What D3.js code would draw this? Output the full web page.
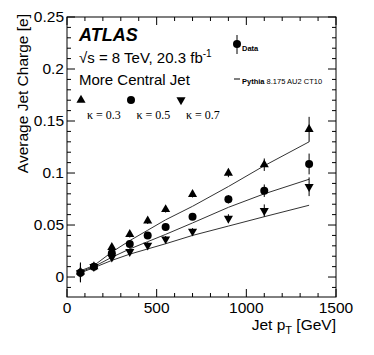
<!DOCTYPE html>
<html>
<head>
<meta charset="utf-8">
<script src="https://cdn.jsdelivr.net/npm/d3@7"></script>
<style>
  body { margin: 0; background: #fff; }
  svg text { font-family: "Liberation Sans", Arial, sans-serif; }
</style>
</head>
<body>
<div id="chart"></div>
<script>

// pT bin centres [GeV]
const ptBins = [75, 150, 250, 350, 450, 550, 700, 900, 1100, 1350];

// data, kappa = 0.3 / 0.5 / 0.7
const data03 = [0.005, 0.010, 0.0285, 0.041, 0.054, 0.065, 0.0795, 0.100, 0.108, 0.142];
const data05 = [0.004, 0.010, 0.0228, 0.0317, 0.040, 0.048, 0.058, 0.0747, 0.083, 0.1087];
const data07 = [0.004, 0.010, 0.019, 0.0244, 0.0305, 0.0365, 0.044, 0.0564, 0.0638, 0.0868];
const errs03 = [0.009, 0.002, 0.003, 0.003, 0.003, 0.003, 0.003, 0.004, 0.006, 0.012];
const errs05 = [0.009, 0.002, 0.003, 0.003, 0.003, 0.003, 0.003, 0.004, 0.006, 0.010];
const errs07 = [0.009, 0.002, 0.003, 0.003, 0.003, 0.003, 0.003, 0.004, 0.006, 0.009];

// Pythia 8.175 AU2 CT10
const mc03 = [0.006, 0.011, 0.024, 0.035, 0.045, 0.055, 0.068, 0.087, 0.107, 0.130];
const mc05 = [0.005, 0.010, 0.019, 0.027, 0.034, 0.041, 0.052, 0.067, 0.080, 0.094];
const mc07 = [0.004, 0.009, 0.016, 0.022, 0.027, 0.032, 0.040, 0.049, 0.058, 0.069];

const xTicks = [0, 500, 1000, 1500];
const yTicks = [0, 0.05, 0.1, 0.15, 0.2, 0.25];

const width = 374, height = 355;
const padL = 67, padR = 336, padT = 17, padB = 297;

const svg = d3.select("#chart")
    .append("svg")
    .attr("width", width)
    .attr("height", height);

const x = d3.scaleLinear().domain([0, 1500]).range([padL, padR]);
const y = d3.scaleLinear().domain([-0.0192, 0.25]).range([padB, padT]);

// frame
svg.append("rect")
    .attr("x", padL).attr("y", padT)
    .attr("width", padR - padL).attr("height", padB - padT)
    .attr("fill", "none").attr("stroke", "#000").attr("stroke-width", 1);

// ticks (ROOT style, inside, all four sides)
const tickG = svg.append("g").attr("stroke", "#000").attr("stroke-width", 1);
d3.range(0, 1501, 100).forEach(function (v) {
    const len = v % 500 === 0 ? 8 : 4;
    tickG.append("line").attr("x1", x(v)).attr("x2", x(v)).attr("y1", padB).attr("y2", padB - len);
    tickG.append("line").attr("x1", x(v)).attr("x2", x(v)).attr("y1", padT).attr("y2", padT + len);
});
d3.range(-1, 26).forEach(function (i) {
    const v = i / 100;
    const len = i % 5 === 0 ? 8 : 4;
    tickG.append("line").attr("x1", padL).attr("x2", padL + len).attr("y1", y(v)).attr("y2", y(v));
    tickG.append("line").attr("x1", padR).attr("x2", padR - len).attr("y1", y(v)).attr("y2", y(v));
});

// tick labels
svg.selectAll("text.xtick")
    .data(xTicks)
    .enter()
    .append("text")
    .attr("class", "xtick")
    .attr("x", d => x(d))
    .attr("y", 313)
    .attr("text-anchor", "middle")
    .style("font-size", "15.5px")
    .text(d => d);

svg.selectAll("text.ytick")
    .data(yTicks)
    .enter()
    .append("text")
    .attr("class", "ytick")
    .attr("x", padL - 3)
    .attr("y", d => y(d) + 5)
    .attr("text-anchor", "end")
    .style("font-size", "15.5px")
    .text(d => d);

// axis titles
const xt = svg.append("text")
    .attr("x", padR)
    .attr("y", 330)
    .attr("text-anchor", "end")
    .style("font-size", "15.5px");
xt.append("tspan").text("Jet p");
xt.append("tspan").attr("dy", 4).style("font-size", "11px").text("T");
xt.append("tspan").attr("dy", -4).text(" [GeV]");

svg.append("text")
    .attr("transform", "translate(28," + (padT - 3) + ") rotate(-90)")
    .attr("text-anchor", "end")
    .style("font-size", "15.5px")
    .text("Average Jet Charge [e]");

// MC lines
const line = d3.line().x((d, i) => x(ptBins[i])).y(d => y(d));
[mc03, mc05, mc07].forEach(function (mc) {
    svg.append("path")
        .attr("d", line(mc))
        .attr("fill", "none")
        .attr("stroke", "#333")
        .attr("stroke-width", 1);
});

// markers
const triUp = d3.symbol().type(d3.symbolTriangle).size(36);
function drawMarker(g, kind, cx, cy) {
    if (kind === "circle") {
        g.append("circle").attr("cx", cx).attr("cy", cy).attr("r", 4).attr("fill", "#000");
    } else {
        g.append("path")
            .attr("d", triUp())
            .attr("transform", "translate(" + cx + "," + cy + ")" + (kind === "down" ? " rotate(180)" : ""))
            .attr("fill", "#000");
    }
}

const series = [
    { vals: data03, errs: errs03, kind: "up" },
    { vals: data05, errs: errs05, kind: "circle" },
    { vals: data07, errs: errs07, kind: "down" }
];

const pts = svg.append("g");
series.forEach(function (s) {
    s.vals.forEach(function (v, i) {
        pts.append("line")
            .attr("x1", x(ptBins[i])).attr("x2", x(ptBins[i]))
            .attr("y1", y(v - s.errs[i])).attr("y2", y(v + s.errs[i]))
            .attr("stroke", "#000").attr("stroke-width", 1);
        drawMarker(pts, s.kind, x(ptBins[i]), y(v));
    });
});

// labels
svg.append("text")
    .attr("x", 79).attr("y", 41)
    .style("font-size", "18px").style("font-weight", "bold").style("font-style", "italic")
    .text("ATLAS");

const lum = svg.append("text").attr("x", 79).attr("y", 63).style("font-size", "15px");
lum.append("tspan").text("\u221As = 8 TeV, 20.3 fb");
lum.append("tspan").attr("dy", -6).style("font-size", "10px").text("-1");

svg.append("text")
    .attr("x", 79).attr("y", 85)
    .style("font-size", "15px")
    .text("More Central Jet");

// kappa legend
const kappaLabels = ["\u03BA = 0.3", "\u03BA = 0.5", "\u03BA = 0.7"];
const kappaKinds = ["up", "circle", "down"];
kappaLabels.forEach(function (t, i) {
    drawMarker(svg, kappaKinds[i], 81 + i * 50, 100);
    svg.append("text")
        .attr("x", 87 + i * 49.5).attr("y", 119)
        .style("font-size", "12px")
        .style("font-family", "'Liberation Serif', 'Times New Roman', serif")
        .text(t);
});

// Data / Pythia legend
svg.append("line").attr("x1", 237).attr("x2", 237).attr("y1", 35).attr("y2", 54).attr("stroke", "#000");
drawMarker(svg, "circle", 237, 44);
svg.append("text").attr("x", 242).attr("y", 51)
    .style("font-size", "7.5px").style("font-weight", "bold").text("Data");

svg.append("line").attr("x1", 234).attr("x2", 240).attr("y1", 79).attr("y2", 79).attr("stroke", "#000");
const py = svg.append("text").attr("x", 242).attr("y", 84).style("font-size", "7.5px");
py.append("tspan").style("font-weight", "bold").text("Pythia");
py.append("tspan").text(" 8.175 AU2 CT10");

</script>
</body>
</html>
